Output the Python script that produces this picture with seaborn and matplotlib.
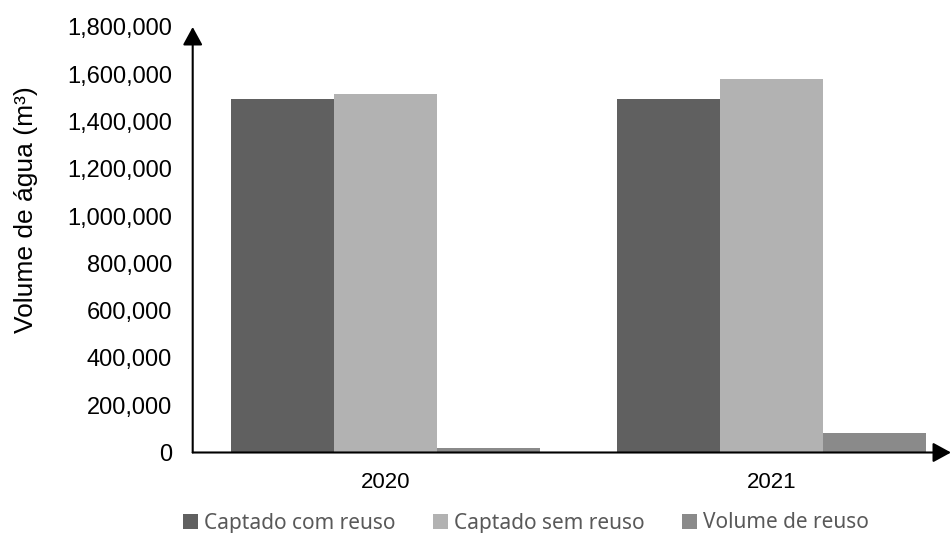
import pandas as pd
import seaborn as sns
import matplotlib.pyplot as plt
from matplotlib.ticker import FuncFormatter

sns.set_style('white')
plt.rcParams['font.family'] = ['Liberation Sans', 'DejaVu Sans']
plt.rcParams['text.color'] = 'black'
plt.rcParams['axes.labelcolor'] = 'black'
plt.rcParams['xtick.color'] = 'black'
plt.rcParams['ytick.color'] = 'black'

# dados
anos = ['2020', '2021']
series = ['Captado com reuso', 'Captado sem reuso', 'Volume de reuso']
captado_com_reuso = [1495000, 1494000]
captado_sem_reuso = [1518000, 1578000]
volume_reuso = [20000, 82000]
cores = ['#606060', '#b2b2b2', '#8a8a8a']

df = pd.DataFrame({
    'ano': anos * 3,
    'serie': [series[0]] * 2 + [series[1]] * 2 + [series[2]] * 2,
    'volume': captado_com_reuso + captado_sem_reuso + volume_reuso,
})

fig = plt.figure(figsize=(9.52, 5.33), dpi=100)
ax = fig.add_axes([192.7 / 952, 80.5 / 533, (951 - 192.7) / 952, 425.5 / 533])

sns.barplot(data=df, x='ano', y='volume', hue='serie', hue_order=series,
            palette=cores, saturation=1, linewidth=0, ax=ax)

ax.set_xlim(-0.5, 1.4645)
ax.set_ylim(0, 1800000)
ax.set_yticks(range(0, 1800001, 200000))
ax.yaxis.set_major_formatter(FuncFormatter(lambda v, _: f'{v:,.0f}'))
ax.tick_params(axis='both', length=0)
ax.tick_params(axis='y', pad=15, labelsize=17)
ax.tick_params(axis='x', pad=14, labelsize=16)
ax.set_xlabel('')
ax.set_ylabel('Volume de água (m³)', fontsize=19, va='center')
ax.yaxis.set_label_coords((26 - 192.7) / 758.3, (452.5 - 210) / 425.5)

for s in ax.spines.values():
    s.set_visible(False)

# eixos com setas
seta = dict(arrowstyle='-|>,head_length=1.1,head_width=0.6', color='black',
            lw=1.5, shrinkA=0, shrinkB=0)
ax.annotate('', xy=(0, 1), xytext=(0, 0), xycoords='axes fraction', arrowprops=seta)
ax.annotate('', xy=(1, 0), xytext=(0, 0), xycoords='axes fraction', arrowprops=seta)

handles, labels = ax.get_legend_handles_labels()
ax.legend_.remove()
fig.legend(handles, labels, loc='center', bbox_to_anchor=(526 / 952, 1 - 523 / 533),
           ncol=3, frameon=False, handlelength=0.7, handleheight=0.7,
           handletextpad=0.3, columnspacing=1.8, labelcolor='#595959',
           prop={'family': ['Noto Sans', 'DejaVu Sans'], 'size': 15})

fig.savefig('out.png', dpi=100)
